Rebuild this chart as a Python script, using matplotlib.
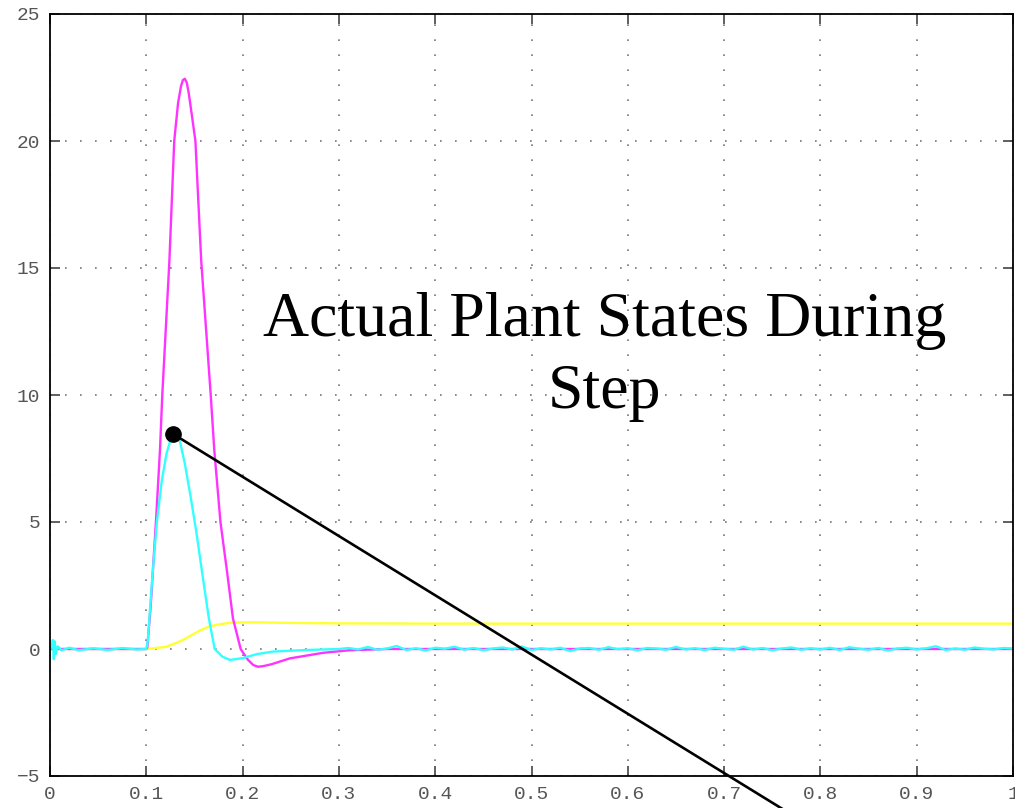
import matplotlib.pyplot as plt

# plant states
t_mag = [0.0, 0.1, 0.101, 0.1045, 0.110, 0.1142, 0.1166, 0.124, 0.129, 0.133,
         0.136, 0.138, 0.140, 0.142, 0.144, 0.147, 0.151, 0.157, 0.1669, 0.1706,
         0.177, 0.184, 0.190, 0.198, 0.205, 0.211, 0.216, 0.222, 0.23, 0.249,
         0.2837, 0.311, 0.35, 1.0]
y_mag = [0.0, 0.0, 0.05, 1.67, 5.0, 7.83, 10.0, 15.3, 20.0, 21.5,
         22.15, 22.4, 22.45, 22.3, 21.9, 21.1, 20.0, 15.3, 10.0, 7.83,
         5.0, 3.0, 1.2, 0.0, -0.4, -0.63, -0.70, -0.67, -0.6, -0.37,
         -0.15, -0.05, 0.0, 0.0]

t_cyan = [0.0, 0.002, 0.003, 0.004, 0.005, 0.006, 0.008, 0.012, 0.02, 0.03,
          0.045, 0.06, 0.075, 0.09, 0.1, 0.1015, 0.1066, 0.111, 0.116, 0.121,
          0.1246, 0.129, 0.135, 0.140, 0.146, 0.152, 0.158, 0.165, 0.171,
          0.179, 0.187, 0.2, 0.215, 0.232, 0.266, 0.3,
          0.31, 0.32, 0.33, 0.34, 0.35, 0.36, 0.37, 0.38, 0.39, 0.40,
          0.41, 0.42, 0.43, 0.44, 0.45, 0.46, 0.47, 0.48, 0.49, 0.50,
          0.51, 0.52, 0.53, 0.54, 0.55, 0.56, 0.57, 0.58, 0.59, 0.60,
          0.61, 0.62, 0.63, 0.64, 0.65, 0.66, 0.67, 0.68, 0.69, 0.70,
          0.71, 0.72, 0.73, 0.74, 0.75, 0.76, 0.77, 0.78, 0.79, 0.80,
          0.81, 0.82, 0.83, 0.84, 0.85, 0.86, 0.87, 0.88, 0.89, 0.90,
          0.91, 0.92, 0.93, 0.94, 0.95, 0.96, 0.97, 0.98, 0.99, 1.0]
y_cyan = [0.0, 0.1, 0.35, -0.4, 0.3, -0.2, 0.1, -0.05, 0.05, -0.05,
          0.03, -0.04, 0.04, -0.02, 0.0, 0.3, 3.0, 5.0, 6.6, 7.7,
          8.16, 8.5, 8.16, 7.3, 6.0, 4.6, 3.0, 1.2, 0.0,
          -0.3, -0.43, -0.36, -0.2, -0.1, -0.04, 0.0,
          0.04, -0.02, 0.08, -0.03, 0.02, 0.12, -0.04, 0.03, -0.06, 0.05,
          0.01, 0.09, -0.03, 0.04, -0.05, 0.02, 0.06, -0.02, 0.10, -0.04,
          0.03, -0.02, 0.05, -0.08, 0.02, 0.04, -0.03, 0.07, -0.01, 0.03,
          -0.05, 0.04, 0.02, -0.03, 0.08, -0.02, 0.03, -0.04, 0.05, 0.01,
          -0.03, 0.09, -0.02, 0.04, -0.05, 0.02, 0.06, -0.03, 0.03, -0.02,
          0.05, -0.04, 0.07, 0.01, -0.03, 0.04, -0.06, 0.02, 0.05, -0.02,
          0.03, 0.11, -0.04, 0.02, -0.03, 0.06, 0.01, -0.02, 0.04, 0.02]

t_yel = [0.0, 0.1, 0.12, 0.135, 0.145, 0.155, 0.165, 0.175, 0.187, 0.2,
         0.215, 0.242, 0.3, 0.4, 1.0]
y_yel = [0.0, 0.0, 0.08, 0.3, 0.5, 0.72, 0.88, 0.97, 1.03, 1.05,
         1.05, 1.03, 1.01, 1.0, 1.0]

x_ticks = [0, 0.1, 0.2, 0.3, 0.4, 0.5, 0.6, 0.7, 0.8, 0.9, 1.0]
x_labels = ['0', '0.1', '0.2', '0.3', '0.4', '0.5', '0.6', '0.7', '0.8', '0.9', '1']
y_ticks = [-5, 0, 5, 10, 15, 20, 25]

# annotation: dot on the cyan peak, line running off the bottom
dot = (0.128, 8.46)
line_end = (0.765, -6.4)

fig = plt.figure(figsize=(10.15, 8.08), dpi=100)
ax = fig.add_axes([50 / 1015, 32 / 808, 963 / 1015, 762 / 808])

ax.plot(t_yel, y_yel, color='#ffff33', lw=1.7)
ax.plot(t_mag, y_mag, color='#ff33ff', lw=1.7)
ax.plot(t_cyan, y_cyan, color='#33ffff', lw=1.7)

ax.set_xlim(0, 1)
ax.set_ylim(-5, 25)
ax.set_xticks(x_ticks)
ax.set_xticklabels(x_labels)
ax.set_yticks(y_ticks)
ax.grid(True, linestyle=(0, (1, 8)), color='#777777', lw=1.2)
ax.tick_params(direction='in', length=7, width=1.2, top=True, right=True,
               colors='#444444', labelcolor='#555555', labelsize=14, pad=7)
for lab in ax.get_xticklabels() + ax.get_yticklabels():
    lab.set_family('Liberation Mono')
for s in ax.spines.values():
    s.set_linewidth(1.3)

ax.plot([dot[0], line_end[0]], [dot[1], line_end[1]], color='black', lw=1.9,
        clip_on=False)
ax.plot(dot[0], dot[1], 'o', color='black', ms=11, clip_on=False)

ax.text(0.576, 11.5, 'Actual Plant States During\nStep', ha='center', va='center',
        multialignment='center', fontsize=46, family='Liberation Serif',
        linespacing=1.32)

fig.savefig('out.png', dpi=100)
